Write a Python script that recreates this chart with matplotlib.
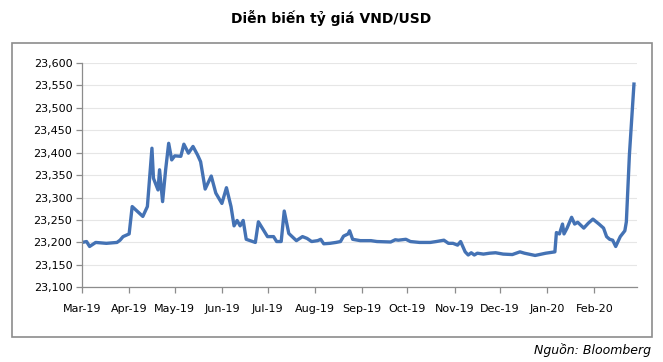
import matplotlib
matplotlib.use("Agg")
import matplotlib.pyplot as plt
import matplotlib.dates as mdates
from matplotlib.patches import Rectangle
from matplotlib.ticker import FuncFormatter, MultipleLocator
import numpy as np
import datetime as dt

title = "Diễn biến tỷ giá VND/USD"
source = "Nguồn: Bloomberg"

dates = [
    "2019-03-01", "2019-03-04", "2019-03-06", "2019-03-10", "2019-03-17", "2019-03-24",
    "2019-03-26", "2019-03-28", "2019-04-01", "2019-04-03", "2019-04-10", "2019-04-13",
    "2019-04-16", "2019-04-17", "2019-04-20", "2019-04-21", "2019-04-23", "2019-04-25",
    "2019-04-27", "2019-04-29", "2019-05-01", "2019-05-05", "2019-05-07", "2019-05-10",
    "2019-05-13", "2019-05-16", "2019-05-18", "2019-05-21", "2019-05-25", "2019-05-28",
    "2019-06-01", "2019-06-04", "2019-06-07", "2019-06-09", "2019-06-11", "2019-06-13",
    "2019-06-15", "2019-06-17", "2019-06-23", "2019-06-25", "2019-07-01", "2019-07-05",
    "2019-07-07", "2019-07-10", "2019-07-12", "2019-07-15", "2019-07-20", "2019-07-24",
    "2019-07-27", "2019-07-30", "2019-08-03", "2019-08-05", "2019-08-07", "2019-08-11",
    "2019-08-15", "2019-08-18", "2019-08-20", "2019-08-23", "2019-08-24", "2019-08-26",
    "2019-08-31", "2019-09-07", "2019-09-11", "2019-09-20", "2019-09-23", "2019-09-25",
    "2019-09-30", "2019-10-03", "2019-10-09", "2019-10-16", "2019-10-20", "2019-10-25",
    "2019-10-28", "2019-10-31", "2019-11-03", "2019-11-05", "2019-11-08", "2019-11-10",
    "2019-11-12", "2019-11-14", "2019-11-16", "2019-11-20", "2019-11-24", "2019-11-28",
    "2019-12-03", "2019-12-09", "2019-12-14", "2019-12-17", "2019-12-24", "2019-12-31",
    "2020-01-06", "2020-01-07", "2020-01-09", "2020-01-11", "2020-01-12", "2020-01-14",
    "2020-01-17", "2020-01-19", "2020-01-21", "2020-01-25", "2020-01-28", "2020-01-31",
    "2020-02-04", "2020-02-07", "2020-02-09", "2020-02-11", "2020-02-13", "2020-02-15",
    "2020-02-18", "2020-02-21", "2020-02-22", "2020-02-24", "2020-02-27",
]
rates = [
    23200, 23202, 23191, 23200, 23198, 23200,
    23205, 23213, 23219, 23280, 23258, 23280,
    23410, 23343, 23317, 23362, 23291, 23362,
    23421, 23384, 23393, 23392, 23419, 23399,
    23414, 23395, 23380, 23319, 23348, 23310,
    23287, 23322, 23280, 23237, 23249, 23237,
    23249, 23207, 23200, 23246, 23213, 23213,
    23202, 23202, 23270, 23220, 23204, 23213,
    23209, 23202, 23204, 23207, 23197, 23198,
    23200, 23202, 23214, 23219, 23226, 23207,
    23204, 23204, 23202, 23201, 23206, 23205,
    23207, 23202, 23200, 23200, 23202, 23205,
    23198, 23198, 23194, 23202, 23179, 23172,
    23177, 23172, 23176, 23174, 23176, 23177,
    23174, 23173, 23179, 23176, 23171, 23176,
    23179, 23222, 23219, 23241, 23219, 23232,
    23256, 23241, 23245, 23232, 23243, 23252,
    23241, 23232, 23213, 23207, 23205, 23191,
    23213, 23226, 23246, 23395, 23553,
]

x = [dt.datetime.strptime(d, "%Y-%m-%d") for d in dates]

fig = plt.figure(figsize=(6.63, 3.62), dpi=100)
fig.patch.set_facecolor("white")

# outer frame
fig.patches.append(Rectangle((12 / 663, 1 - 337 / 362), (652 - 12) / 663, (337 - 43) / 362,
                             transform=fig.transFigure, fill=False, edgecolor="#8c8c8c",
                             linewidth=1.2, zorder=0))

ax = fig.add_axes([82 / 663, 1 - 287.3 / 362, (637 - 82) / 663, (287.3 - 63) / 362])
ax.plot(x, rates, color="#4472b4", linewidth=2.4, solid_joinstyle="round")

ax.set_ylim(23100, 23600)
ax.yaxis.set_major_locator(MultipleLocator(50))
ax.yaxis.set_major_formatter(FuncFormatter(lambda v, p: f"{int(v):,}"))
ax.set_xlim(dt.datetime(2019, 3, 1), dt.datetime(2020, 2, 29))
ax.xaxis.set_major_locator(mdates.MonthLocator())
ax.xaxis.set_major_formatter(mdates.DateFormatter("%b-%y"))

ax.grid(axis="y", color="#e6e6e6", linewidth=0.8)
ax.set_axisbelow(True)
for s in ["top", "right"]:
    ax.spines[s].set_visible(False)
for s in ["left", "bottom"]:
    ax.spines[s].set_color("#8c8c8c")
    ax.spines[s].set_linewidth(0.9)
ax.tick_params(axis="both", colors="#8c8c8c", length=4, width=0.9, labelcolor="black",
               labelsize=8)
ax.tick_params(axis="x", pad=8)
ax.tick_params(axis="y", pad=3)

fig.text(331 / 663, 1 - 18 / 362, title, ha="center", va="center", fontsize=10,
         fontweight="bold")
fig.text(651 / 663, 1 - 350 / 362, source, ha="right", va="center", fontsize=9,
         fontstyle="italic")

fig.savefig("out.png", dpi=100, facecolor="white")
